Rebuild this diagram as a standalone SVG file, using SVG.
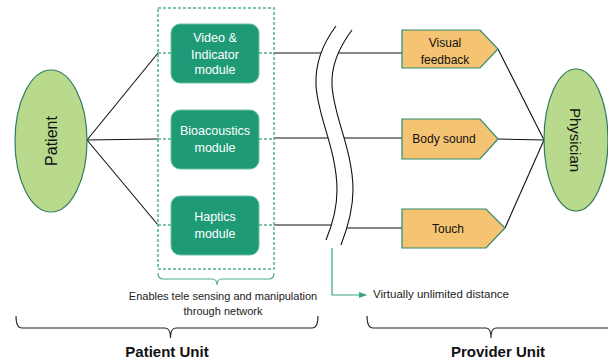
<svg xmlns="http://www.w3.org/2000/svg" width="608" height="362" viewBox="0 0 608 362">
<defs>
<style>
text{font-family:"Liberation Sans",Arial,sans-serif;}
.ell{fill:#b9d98c;stroke:#2e7d5e;stroke-width:1.2;}
.mod{fill:#1f9a77;stroke:#6cc2a4;stroke-width:1;}
.mt{fill:#ffffff;font-size:12.5px;text-anchor:middle;}
.pent{fill:#f5c473;stroke:#2e8a6e;stroke-width:1.2;}
.pt{fill:#111;font-size:12px;text-anchor:middle;}
.ln{stroke:#111;stroke-width:1.1;fill:none;}
.dash{stroke:#4fb092;stroke-width:1.5;stroke-dasharray:3,2;fill:none;}
.grn{stroke:#4fb092;stroke-width:1.2;fill:none;}
.brace{stroke:#222;stroke-width:1.1;fill:none;}
.cap{fill:#222;font-size:11px;text-anchor:middle;}
</style>
<marker id="ah" markerWidth="8" markerHeight="6" refX="7" refY="3" orient="auto" markerUnits="userSpaceOnUse">
<path d="M0,0 L8,3 L0,6 Z" fill="#3aa380"/>
</marker>
</defs>

<g id="connectors">
<line class="ln" x1="87" y1="140" x2="158" y2="53"/>
<line class="ln" x1="87" y1="140" x2="158" y2="139"/>
<line class="ln" x1="87" y1="140" x2="158" y2="225"/>
<line class="dash" x1="158" y1="53" x2="171" y2="53"/>
<line class="dash" x1="259" y1="53" x2="274" y2="53"/>
<line class="dash" x1="158" y1="139" x2="171" y2="139"/>
<line class="dash" x1="259" y1="139" x2="274" y2="139"/>
<line class="dash" x1="158" y1="225" x2="171" y2="225"/>
<line class="dash" x1="259" y1="225" x2="274" y2="225"/>
<line class="ln" x1="274" y1="53" x2="402" y2="53"/>
<line class="ln" x1="274" y1="138" x2="402" y2="138"/>
<line class="ln" x1="274" y1="225" x2="336" y2="225"/>
<line class="ln" x1="336" y1="228" x2="402" y2="228"/>
<line class="ln" x1="498" y1="49" x2="544" y2="140"/>
<line class="ln" x1="498" y1="139" x2="544" y2="140"/>
<line class="ln" x1="505" y1="228" x2="544" y2="140"/>
<path d="M332,248 L332,295 L366,295" stroke="#3aa380" stroke-width="1.2" fill="none" marker-end="url(#ah)"/>
</g>

<g id="break">
<path d="M336,26 C324,42 315,62 316,85 C317,115 337,150 337,190 C337,210 331,228 326,240 L341,245 C346,232 353,212 353,190 C353,150 333,115 332,85 C331,64 340,46 352,30 Z" fill="#fff" stroke="none"/>
<path class="ln" d="M336,26 C324,42 315,62 316,85 C317,115 337,150 337,190 C337,210 331,228 326,240"/>
<path class="ln" d="M352,30 C340,46 331,64 332,85 C333,115 353,150 353,190 C353,212 346,232 341,245"/>
</g>

<g id="patient">
<ellipse class="ell" cx="51" cy="141" rx="36" ry="71"/>
<text transform="translate(57,141) rotate(-90)" font-size="16" text-anchor="middle" fill="#111">Patient</text>
</g>

<g id="module-box">
<rect x="158" y="8" width="116" height="261" class="dash"/>
</g>

<g id="video">
<rect class="mod" x="171" y="24" width="88" height="59" rx="9"/>
<text class="mt" x="215" y="41.5">Video &amp;</text>
<text class="mt" x="215" y="58.5">Indicator</text>
<text class="mt" x="215" y="74">module</text>
</g>
<g id="bioacoustics">
<rect class="mod" x="171" y="110" width="88" height="59" rx="9"/>
<text class="mt" x="215" y="135">Bioacoustics</text>
<text class="mt" x="215" y="152">module</text>
</g>
<g id="haptics">
<rect class="mod" x="171" y="196" width="88" height="59" rx="9"/>
<text class="mt" x="215" y="221">Haptics</text>
<text class="mt" x="215" y="238">module</text>
</g>

<g id="visual">
<polygon class="pent" points="402,30 480,30 498,49 480,68 402,68"/>
<text class="pt" x="445" y="47">Visual</text>
<text class="pt" x="445" y="63.5">feedback</text>
</g>
<g id="body">
<polygon class="pent" points="402,119 480,119 498,139 480,159 402,159"/>
<text class="pt" x="444" y="142.5">Body sound</text>
</g>
<g id="touch">
<polygon class="pent" points="402,209 486,209 505,228 486,248 402,248"/>
<text class="pt" x="448" y="233">Touch</text>
</g>

<g id="physician">
<ellipse class="ell" cx="576" cy="140" rx="32" ry="71"/>
<text transform="translate(570,140) rotate(90)" font-size="15" text-anchor="middle" fill="#111">Physician</text>
</g>

<g id="annotations">
<path class="grn" d="M158,273 Q158,279 163,279 L212,279 Q217,279 217,285 Q217,279 222,279 L269,279 Q274,279 274,273"/>
<text class="cap" x="223" y="300">Enables tele sensing and manipulation</text>
<text class="cap" x="223" y="315">through network</text>
<text x="373" y="297.5" font-size="11.5" fill="#222">Virtually unlimited distance</text>
<path class="brace" d="M16,316 Q16,328 22,328 L165,328 Q170.5,328 170.5,338 Q170.5,328 176,328 L312,328 Q318,328 318,316"/>
<path class="brace" d="M367,316 Q367,328 373,328 L486,328 Q491,328 491,338 Q491,328 496,328 L612,328"/>
<text x="167" y="357" font-size="15" font-weight="bold" text-anchor="middle" fill="#111">Patient Unit</text>
<text x="498" y="357" font-size="15" font-weight="bold" text-anchor="middle" fill="#111">Provider Unit</text>
</g>
</svg>
